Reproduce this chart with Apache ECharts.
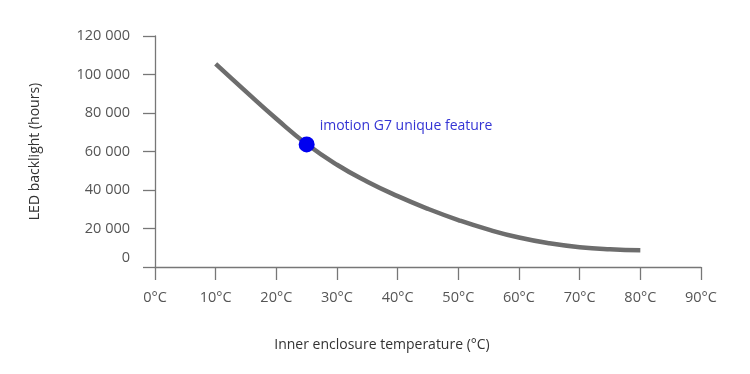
<!DOCTYPE html>
<html>
<head>
<meta charset="utf-8">
<script src="https://cdn.jsdelivr.net/npm/echarts@6/dist/echarts.min.js"></script>
<style>html,body{margin:0;padding:0;background:#fff}#c{width:750px;height:374px}</style>
</head>
<body>
<div id="c"></div>
<script>
// Data
const temperatures = [10, 15, 20, 25, 30, 35, 40, 45, 50, 55, 60, 65, 70, 75, 80];
const backlightHours = [105500, 91100, 77000, 63900, 53100, 44300, 36800, 30200, 24400, 19400, 15300, 12300, 10300, 9200, 8700];
const featureTemp = [25];
const featureHours = [63700];
const featureLabel = 'imotion G7 unique feature';
const xTitle = 'Inner enclosure temperature (°C)';
const yTitle = 'LED backlight (hours)';

const chart = echarts.init(document.getElementById('c'), null, {renderer: 'canvas'});
const font = 'Open Sans';
const axisColor = '#777';
chart.setOption({
  animation: false,
  grid: {left: 155, right: 49, top: 36, bottom: 107, containLabel: false},
  xAxis: {
    type: 'value', min: 0, max: 90, interval: 10,
    name: xTitle, nameLocation: 'middle', nameGap: 71,
    nameTextStyle: {fontFamily: font, fontSize: 14, color: '#333', padding: [0, 92, 0, 0]},
    axisLine: {show: true, lineStyle: {color: axisColor, width: 1.3}},
    axisTick: {show: true, length: 13, lineStyle: {color: axisColor, width: 1.3}},
    axisLabel: {fontFamily: font, fontSize: 14.5, color: '#555', margin: 23, formatter: v => v + '°C'},
    splitLine: {show: false}
  },
  yAxis: {
    type: 'value', min: 0, max: 120000, interval: 20000,
    name: yTitle, nameLocation: 'middle', nameGap: 113, nameRotate: 90,
    nameTextStyle: {fontFamily: font, fontSize: 14, color: '#333'},
    axisLine: {show: true, lineStyle: {color: axisColor, width: 1.3}},
    axisTick: {show: true, length: 12, lineStyle: {color: axisColor, width: 1.3}},
    axisLabel: {
      fontFamily: font, fontSize: 14.5, color: '#555', margin: 25,
      formatter: v => v === 0 ? '{z|0}' : String(v).replace(/\B(?=(\d{3})+(?!\d))/g, ' '),
      rich: {z: {fontFamily: font, fontSize: 14.5, color: '#555', padding: [0, 0, 18, 0]}}
    },
    splitLine: {show: false}
  },
  series: [
    {
      type: 'line', smooth: true, showSymbol: false,
      data: temperatures.map((t, i) => [t, backlightHours[i]]),
      lineStyle: {color: '#6d6d6d', width: 4.5},
      itemStyle: {color: '#6d6d6d'}
    },
    {
      type: 'scatter', symbolSize: 16, z: 5,
      data: featureTemp.map((t, i) => [t, featureHours[i]]),
      itemStyle: {color: '#0000f0', opacity: 1},
      label: {show: true, position: 'right', distance: 5, offset: [0, -18],
        formatter: featureLabel, fontFamily: font, fontSize: 14, color: '#3434d4'}
    }
  ]
});
</script>
</body>
</html>
